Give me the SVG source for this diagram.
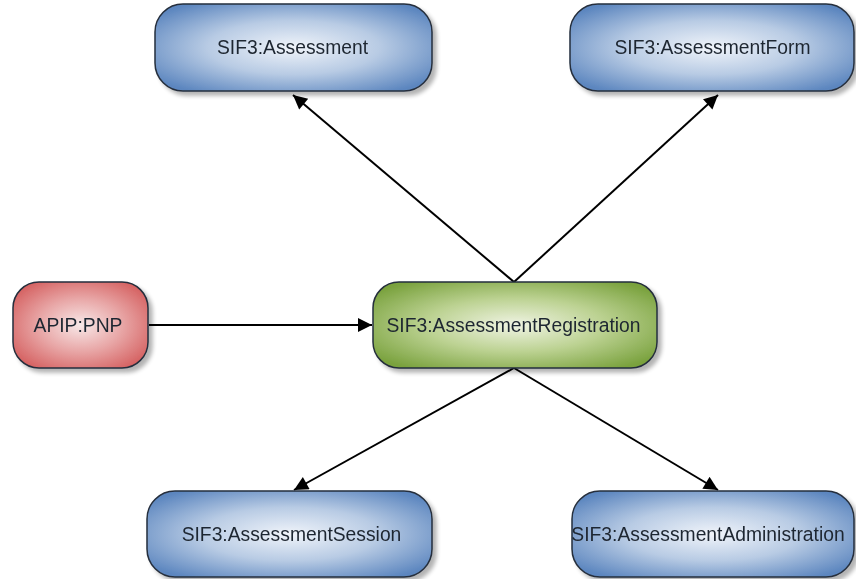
<svg xmlns="http://www.w3.org/2000/svg" width="856" height="579" viewBox="0 0 856 579">
<defs>
<radialGradient id="gBlue" cx="0.5" cy="0.5" r="0.62">
<stop offset="0" stop-color="#f0f4fa"/>
<stop offset="0.5" stop-color="#b8cbe4"/>
<stop offset="1" stop-color="#5c86bf"/>
</radialGradient>
<radialGradient id="gGreen" cx="0.5" cy="0.5" r="0.62">
<stop offset="0" stop-color="#f0f4e4"/>
<stop offset="0.5" stop-color="#bcd292"/>
<stop offset="1" stop-color="#7aa23e"/>
</radialGradient>
<radialGradient id="gRed" cx="0.5" cy="0.5" r="0.62">
<stop offset="0" stop-color="#f8e8e8"/>
<stop offset="0.5" stop-color="#e8a6a6"/>
<stop offset="1" stop-color="#d45e5e"/>
</radialGradient>
<filter id="sh" x="-10%" y="-10%" width="130%" height="140%">
<feGaussianBlur in="SourceAlpha" stdDeviation="2"/>
<feOffset dx="4" dy="4" result="b"/>
<feComponentTransfer><feFuncA type="linear" slope="0.3"/></feComponentTransfer>
<feMerge><feMergeNode/><feMergeNode in="SourceGraphic"/></feMerge>
</filter>
<marker id="arrL" viewBox="0 0 10 10" refX="10" refY="5" markerWidth="16" markerHeight="14" markerUnits="userSpaceOnUse" orient="auto">
<path d="M0,0 L10,5 L0,10 z" fill="#000"/>
</marker>
</defs>
<style>
.box{stroke:#252f3c;stroke-width:1.5}
.lbl{font-family:"Liberation Sans",Arial,sans-serif;font-size:19.3px;fill:#1e2630;text-anchor:middle;dominant-baseline:central}
.con{stroke:#000;stroke-width:2;fill:none;marker-end:url(#arrL)}
</style>
<rect width="856" height="579" fill="#fff"/>
<g id="connectors">
<line class="con" x1="514" y1="282" x2="293" y2="95"/>
<line class="con" x1="514" y1="282" x2="718" y2="95"/>
<line class="con" x1="149" y1="325" x2="372" y2="325"/>
<line class="con" x1="514" y1="368" x2="294" y2="490"/>
<line class="con" x1="514" y1="368" x2="718" y2="490"/>
</g>
<g id="assessment" filter="url(#sh)">
<rect class="box" x="155" y="4" width="277" height="87" rx="28" fill="url(#gBlue)"/>
<text class="lbl" x="292.5" y="47">SIF3:Assessment</text>
</g>
<g id="assessmentForm" filter="url(#sh)">
<rect class="box" x="570" y="4" width="284" height="87" rx="28" fill="url(#gBlue)"/>
<text class="lbl" x="712.5" y="47">SIF3:AssessmentForm</text>
</g>
<g id="apipPnp" filter="url(#sh)">
<rect class="box" x="13" y="282" width="135" height="86" rx="26" fill="url(#gRed)"/>
<text class="lbl" x="78" y="325">APIP:PNP</text>
</g>
<g id="assessmentRegistration" filter="url(#sh)">
<rect class="box" x="373" y="282" width="284" height="86" rx="26" fill="url(#gGreen)"/>
<text class="lbl" x="513.5" y="325">SIF3:AssessmentRegistration</text>
</g>
<g id="assessmentSession" filter="url(#sh)">
<rect class="box" x="147" y="491" width="285" height="86" rx="28" fill="url(#gBlue)"/>
<text class="lbl" x="291.5" y="534">SIF3:AssessmentSession</text>
</g>
<g id="assessmentAdministration" filter="url(#sh)">
<rect class="box" x="572" y="491" width="282" height="86" rx="28" fill="url(#gBlue)"/>
<text class="lbl" x="708" y="534">SIF3:AssessmentAdministration</text>
</g>
</svg>
